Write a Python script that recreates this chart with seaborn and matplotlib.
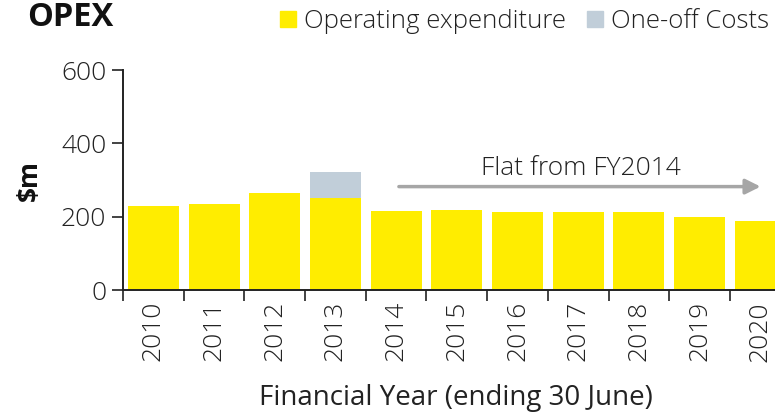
import matplotlib
matplotlib.use('Agg')
import pandas as pd
import seaborn as sns
import matplotlib.pyplot as plt
from matplotlib.lines import Line2D

# Dados
anos = ['2010', '2011', '2012', '2013', '2014', '2015', '2016', '2017', '2018', '2019', '2020']
opex = [229, 234, 264, 251, 216, 218, 214, 214, 214, 199, 189]
one_off = [0, 0, 0, 71, 0, 0, 0, 0, 0, 0, 0]

amarelo = '#FFED00'
cinza = '#C1CED9'

df = pd.DataFrame({'ano': anos, 'opex': opex, 'one_off': one_off})
df['total'] = df['opex'] + df['one_off']

sns.set_style('white')
plt.rcParams['font.family'] = ['Open Sans', 'DejaVu Sans']
plt.rcParams['font.weight'] = 'light'

fig = plt.figure(figsize=(7.75, 4.13), dpi=100)
ax = fig.add_axes([0.1587, 0.2978, 0.8615, 0.5327])

# Empilhado: total em cinza atrás, opex em amarelo na frente
sns.barplot(data=df, x='ano', y='total', color=cinza, width=0.84,
            saturation=1, linewidth=0, ax=ax)
sns.barplot(data=df, x='ano', y='opex', color=amarelo, width=0.84,
            saturation=1, linewidth=0, ax=ax)

ax.set_xlim(-0.5, 10.5)
ax.set_ylim(0, 600)
ax.set_yticks([0, 200, 400, 600])
ax.set_xticks([i - 0.5 for i in range(12)], minor=False)
ax.set_xticklabels([])
ax.set_xticks(range(11), minor=True)
ax.set_xticklabels(anos, minor=True, rotation=90, fontsize=19, color='#222222')
ax.tick_params(axis='x', which='major', length=8, width=1.2, color='#222222', direction='out', bottom=True)
ax.tick_params(axis='x', which='minor', length=0, pad=8)
ax.tick_params(axis='y', length=8, width=1.2, color='#222222', direction='out', left=True,
               labelsize=19, labelcolor='#222222', pad=4)

for lado in ['top', 'right']:
    ax.spines[lado].set_visible(False)
for lado in ['left', 'bottom']:
    ax.spines[lado].set_color('#222222')
    ax.spines[lado].set_linewidth(1.4)

ax.set_xlabel('Financial Year (ending 30 June)', fontsize=20, color='#222222')
ax.xaxis.set_label_coords(0.498, -0.425)
ax.set_ylabel('$m', fontsize=19, fontweight='bold', color='#111111')
ax.yaxis.set_label_coords(-0.12, 0.5)

# Seta "Flat from FY2014"
ax.annotate('', xy=(10.05, 282), xytext=(4, 282),
            arrowprops=dict(arrowstyle='-|>,head_length=0.9,head_width=0.45',
                            color='#A6A6A6', lw=2.5))
ax.text(7.04, 315, 'Flat from FY2014', ha='center', va='baseline', fontsize=19, color='#222222')

fig.text(0.035, 0.997, 'OPEX', ha='left', va='top', fontsize=23.5, fontweight='bold', color='#111111')

handles = [
    Line2D([], [], marker='s', linestyle='', markersize=11, color=amarelo, label='Operating expenditure'),
    Line2D([], [], marker='s', linestyle='', markersize=11, color=cinza, label='One-off Costs'),
]
fig.legend(handles=handles, loc='upper right', bbox_to_anchor=(1.022, 1.035), ncol=2, frameon=False,
           fontsize=18.5, handletextpad=0.25, columnspacing=0.8, handlelength=0.7, labelcolor='#222222')

plt.savefig('out.png', dpi=100)
